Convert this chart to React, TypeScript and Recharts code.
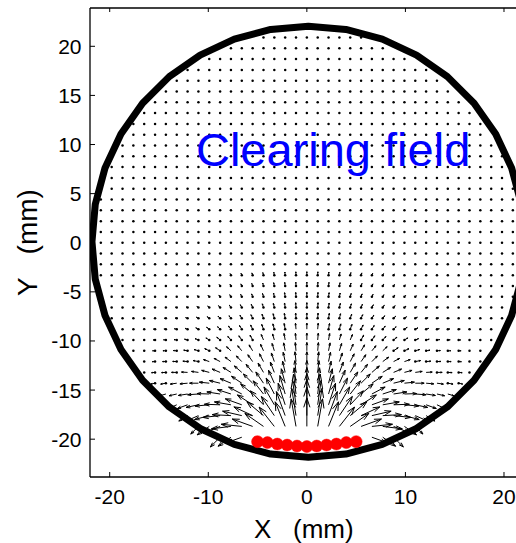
import React from 'react';
import { ComposedChart, XAxis, YAxis, Line, Scatter } from 'recharts';

const FONT = '"Liberation Sans", Arial, Helvetica, sans-serif';

// quiver grid (mm)
const gridX = [-22, -20.9, -19.8, -18.7, -17.6, -16.5, -15.4, -14.3, -13.2, -12.1, -11, -9.9, -8.8, -7.7, -6.6, -5.5, -4.4, -3.3, -2.2, -1.1, 0, 1.1, 2.2, 3.3, 4.4, 5.5, 6.6, 7.7, 8.8, 9.9, 11, 12.1, 13.2, 14.3, 15.4, 16.5, 17.6, 18.7, 19.8, 20.9, 22];
const gridY = [-22, -20.9, -19.8, -18.7, -17.6, -16.5, -15.4, -14.3, -13.2, -12.1, -11, -9.9, -8.8, -7.7, -6.6, -5.5, -4.4, -3.3, -2.2, -1.1, 0, 1.1, 2.2, 3.3, 4.4, 5.5, 6.6, 7.7, 8.8, 9.9, 11, 12.1, 13.2, 14.3, 15.4, 16.5, 17.6, 18.7, 19.8, 20.9, 22];

const xTicks = [-20, -10, 0, 10, 20];
const yTicks = [-20, -15, -10, -5, 0, 5, 10, 15, 20];

// chamber wall
const wallCenterX = 0.15;
const wallCenterY = 0.1;
const wallRadius = 21.95;
const wallVertexAngles = [0, 10, 20, 30, 40, 50, 60, 70, 80, 90, 100, 110, 120, 130, 140, 150, 160, 170, 180, 190, 200, 210, 220, 230, 240, 250, 260, 270, 280, 290, 300, 310, 320, 330, 340, 350, 360];
const dotCutoff = 21.5;
const dotUnderArrowMaxLength = 0.6;

// electrodes
const electrodeX = [-5, -4, -3, -2, -1, 0, 1, 2, 3, 4, 5];
const electrodeY = [-20.25, -20.35, -20.5, -20.6, -20.7, -20.75, -20.7, -20.6, -20.5, -20.35, -20.25];

// clearing-field arrows: per row, for column offsets 0,1,2,... from x=0 (mirrored left/right)
// tilt away from vertical (deg, outward) and drawn length (mm)
const arrowRowY = [-3.3, -4.4, -5.5, -6.6, -7.7, -8.8, -9.9, -11, -12.1, -13.2, -14.3, -15.4, -16.5, -17.6, -18.7, -19.8];
const arrowTilt: (number | null)[][] = [
  [0, 3, 6, 10, 14, 18, 22, 26, 30],
  [0, 3, 7, 11, 15, 19, 24, 28, 33, 38],
  [0, 4, 8, 12, 16, 20, 25, 30, 36, 42, 50, 60],
  [0, 4, 8, 13, 17, 22, 27, 33, 39, 46, 55, 65, 75],
  [0, 4, 9, 14, 19, 24, 30, 36, 43, 51, 60, 70, 78, 84],
  [0, 5, 10, 15, 20, 26, 32, 39, 46, 55, 64, 73, 80, 85, 88],
  [0, 5, 10, 16, 22, 28, 35, 42, 50, 59, 68, 76, 82, 86, 89],
  [0, 5, 11, 17, 24, 31, 39, 47, 56, 65, 74, 81, 86, 89, 90],
  [0, 6, 12, 19, 27, 35, 44, 53, 62, 71, 79, 85, 88, 90, 92],
  [0, 6, 13, 21, 30, 39, 49, 58, 67, 75, 82, 87, 90, 93, 95],
  [0, 7, 15, 24, 34, 45, 56, 67, 76, 84, 90, 95, 98, 100, 102],
  [0, 7, 16, 27, 38, 50, 62, 72, 81, 88, 94, 99, 103, 106],
  [0, 8, 18, 30, 43, 57, 70, 80, 88, 95, 102, 110, 115],
  [0, 9, 20, 34, 50, 65, 77, 87, 96, 105, 114, 122],
  [0, 10, 22, 38, 55, 70, 84, 97, 112, 125, 135],
  [null, null, null, null, null, null, 110, 125, 135],
];
const arrowLength: number[][] = [
  [0.35, 0.34, 0.32, 0.3, 0.27, 0.24, 0.2, 0.17, 0.14],
  [0.4, 0.39, 0.37, 0.34, 0.3, 0.27, 0.23, 0.2, 0.17, 0.14],
  [0.45, 0.44, 0.42, 0.39, 0.35, 0.31, 0.27, 0.24, 0.21, 0.18, 0.15, 0.12],
  [0.5, 0.49, 0.47, 0.44, 0.4, 0.36, 0.32, 0.28, 0.25, 0.22, 0.19, 0.16, 0.13],
  [0.55, 0.54, 0.52, 0.49, 0.45, 0.41, 0.37, 0.33, 0.3, 0.27, 0.24, 0.21, 0.18, 0.15],
  [0.62, 0.61, 0.59, 0.56, 0.52, 0.48, 0.44, 0.4, 0.36, 0.33, 0.3, 0.27, 0.24, 0.2, 0.16],
  [0.7, 0.69, 0.67, 0.64, 0.6, 0.56, 0.52, 0.48, 0.44, 0.4, 0.36, 0.32, 0.28, 0.24, 0.2],
  [0.85, 0.84, 0.82, 0.78, 0.74, 0.7, 0.66, 0.61, 0.56, 0.51, 0.46, 0.4, 0.35, 0.3, 0.25],
  [1.0, 1.0, 0.97, 0.93, 0.89, 0.85, 0.8, 0.75, 0.69, 0.62, 0.55, 0.48, 0.41, 0.34, 0.28],
  [1.2, 1.2, 1.17, 1.13, 1.09, 1.05, 1.0, 0.95, 0.88, 0.8, 0.71, 0.62, 0.53, 0.44, 0.36],
  [1.6, 1.58, 1.52, 1.45, 1.38, 1.32, 1.26, 1.2, 1.12, 1.02, 0.9, 0.78, 0.66, 0.54, 0.42],
  [2.1, 2.05, 1.95, 1.82, 1.7, 1.6, 1.52, 1.45, 1.36, 1.24, 1.1, 0.95, 0.8, 0.64],
  [2.6, 2.5, 2.3, 2.1, 1.95, 1.85, 1.78, 1.7, 1.6, 1.45, 1.28, 1.1, 0.9],
  [2.9, 2.8, 2.6, 2.35, 2.2, 2.1, 2.0, 1.9, 1.75, 1.55, 1.3, 1.05],
  [2.9, 2.85, 2.7, 2.5, 2.3, 2.2, 2.1, 2.0, 1.8, 1.5, 1.1],
  [0, 0, 0, 0, 0, 0, 1.5, 1.6, 1.4],
];

// annotation
const annotationX = [-11.25];
const annotationY = [7.8];
const annotationText = ['Clearing field'];

// ---------- build library data ----------
const keyOf = (x: number, y: number) => `${x.toFixed(2)}|${y.toFixed(2)}`;
const centerIdx = gridX.indexOf(0);
const noDot = new Set<string>();
type Arrow = { x: number; y: number; u: number; v: number };
const arrows: Arrow[] = [];
arrowRowY.forEach((y, r) => {
  arrowTilt[r].forEach((th, i) => {
    const sides = i === 0 ? [1] : [-1, 1];
    sides.forEach((s) => {
      const x = gridX[centerIdx + s * i];
      if (th === null) {
        noDot.add(keyOf(x, y));
        return;
      }
      const len = arrowLength[r][i];
      if (len >= dotUnderArrowMaxLength) noDot.add(keyOf(x, y));
      const ang = ((90 - s * th) * Math.PI) / 180;
      arrows.push({ x, y, u: len * Math.cos(ang), v: len * Math.sin(ang) });
    });
  });
});

const dots: { x: number; y: number }[] = [];
gridY.forEach((y) => {
  gridX.forEach((x) => {
    if (Math.hypot(x - wallCenterX, y - wallCenterY) > dotCutoff) return;
    if (y < -20) return;
    if (noDot.has(keyOf(x, y))) return;
    dots.push({ x, y });
  });
});

const HEAD_A = 0.33;
const HEAD_B = 0.33;
const quiverPath: { x: number; y: number | null }[] = [];
arrows.forEach(({ x, y, u, v }) => {
  const tx = x + u;
  const ty = y + v;
  quiverPath.push(
    { x, y },
    { x: tx, y: ty },
    { x: tx - HEAD_A * (u + HEAD_B * v), y: ty - HEAD_A * (v - HEAD_B * u) },
    { x: tx, y: null },
    { x: tx - HEAD_A * (u - HEAD_B * v), y: ty - HEAD_A * (v + HEAD_B * u) },
    { x: tx, y: ty },
    { x: tx, y: null },
  );
});

const wallPath = wallVertexAngles.map((a) => ({
  x: wallCenterX + wallRadius * Math.cos((a * Math.PI) / 180),
  y: wallCenterY + wallRadius * Math.sin((a * Math.PI) / 180),
}));

const electrodes = electrodeX.map((x, i) => ({ x, y: electrodeY[i] }));
const annotations = annotationX.map((x, i) => ({ x, y: annotationY[i], label: annotationText[i] }));

// ---------- rendering helpers ----------
const XTick = (p: any) => {
  const { x, y, payload } = p;
  return (
    <g>
      <line x1={x} x2={x} y1={y} y2={y - 5} stroke="#000" strokeWidth={1} />
      <text x={x} y={y + 26.5} textAnchor="middle" fontFamily={FONT} fontSize={21} fill="#000">
        {payload.value}
      </text>
    </g>
  );
};
const TopTick = (p: any) => {
  const { x, y } = p;
  return <line x1={x} x2={x} y1={y} y2={y + 4} stroke="#000" strokeWidth={1} />;
};
const YTick = (p: any) => {
  const { x, y, payload } = p;
  return (
    <g>
      <line x1={x} x2={x + 5} y1={y} y2={y} stroke="#000" strokeWidth={1} />
      <text x={x - 8.5} y={y + 7.5} textAnchor="end" fontFamily={FONT} fontSize={21} fill="#000">
        {payload.value}
      </text>
    </g>
  );
};
const XLabel = (p: any) => {
  const vb = p.viewBox;
  const cx = vb && vb.width ? vb.x + vb.width / 2 - 3 : 304;
  return (
    <text x={cx} y={537.5} textAnchor="middle" fontFamily={FONT} fontSize={26} fill="#000" style={{ whiteSpace: 'pre' }}>
      {'X   (mm)'}
    </text>
  );
};
const YLabel = (p: any) => {
  const vb = p.viewBox;
  const cy = vb && vb.height ? vb.y + vb.height / 2 : 243;
  const x = 36.5;
  return (
    <text x={x} y={cy} transform={`rotate(-90 ${x} ${cy})`} textAnchor="middle" fontFamily={FONT} fontSize={28} fill="#000" style={{ whiteSpace: 'pre' }}>
      {'Y   (mm)'}
    </text>
  );
};

const GridDot = (p: any) => <circle cx={p.cx} cy={p.cy} r={1.25} fill="#000" />;
const ElectrodeDot = (p: any) => <circle cx={p.cx} cy={p.cy} r={6} fill="#ff0000" stroke="#ff0000" strokeWidth={0.5} />;
const AnnotationText = (p: any) => (
  <text x={p.cx} y={p.cy} fontFamily={FONT} fontSize={47} fill="#0000ff">
    {p.payload.label}
  </text>
);

export default function App() {
  return (
    <div style={{ position: 'absolute', left: 0, top: 0, width: 516, height: 543, overflow: 'hidden', background: '#fff' }}>
      <ComposedChart width={540} height={543} margin={{ top: 0, right: 16.3, bottom: 26, left: 30 }}>
        <XAxis
          xAxisId="bottom"
          type="number"
          dataKey="x"
          domain={[-22, 22]}
          ticks={xTicks}
          allowDataOverflow
          height={40}
          tickLine={false}
          tickSize={0}
          tickMargin={0}
          axisLine={{ stroke: '#000', strokeWidth: 1.3 }}
          tick={(p: any) => <XTick {...p} />}
          label={<XLabel />}
        />
        <XAxis
          xAxisId="top"
          orientation="top"
          type="number"
          dataKey="x"
          domain={[-22, 22]}
          ticks={xTicks}
          allowDataOverflow
          height={8}
          tickLine={false}
          tickSize={0}
          tickMargin={0}
          axisLine={{ stroke: '#000', strokeWidth: 1.3 }}
          tick={(p: any) => <TopTick {...p} />}
        />
        <YAxis
          yAxisId="left"
          type="number"
          dataKey="y"
          domain={[-23.85, 23.9]}
          ticks={yTicks}
          allowDataOverflow
          width={60}
          tickLine={false}
          tickSize={0}
          tickMargin={0}
          axisLine={{ stroke: '#000', strokeWidth: 1.3 }}
          tick={(p: any) => <YTick {...p} />}
          label={<YLabel />}
        />
        <Scatter xAxisId="bottom" yAxisId="left" data={dots} dataKey="y" shape={GridDot} isAnimationActive={false} />
        <Line
          xAxisId="bottom"
          yAxisId="left"
          data={quiverPath}
          dataKey="y"
          type="linear"
          stroke="#000"
          strokeWidth={1}
          dot={false}
          activeDot={false}
          connectNulls={false}
          isAnimationActive={false}
        />
        <Line
          xAxisId="bottom"
          yAxisId="left"
          data={wallPath}
          dataKey="y"
          type="linear"
          stroke="#000"
          strokeWidth={7}
          strokeLinejoin="round"
          dot={false}
          activeDot={false}
          isAnimationActive={false}
        />
        <Scatter xAxisId="bottom" yAxisId="left" data={electrodes} dataKey="y" shape={ElectrodeDot} isAnimationActive={false} />
        <Scatter xAxisId="bottom" yAxisId="left" data={annotations} dataKey="y" shape={AnnotationText} isAnimationActive={false} />
      </ComposedChart>
    </div>
  );
}
